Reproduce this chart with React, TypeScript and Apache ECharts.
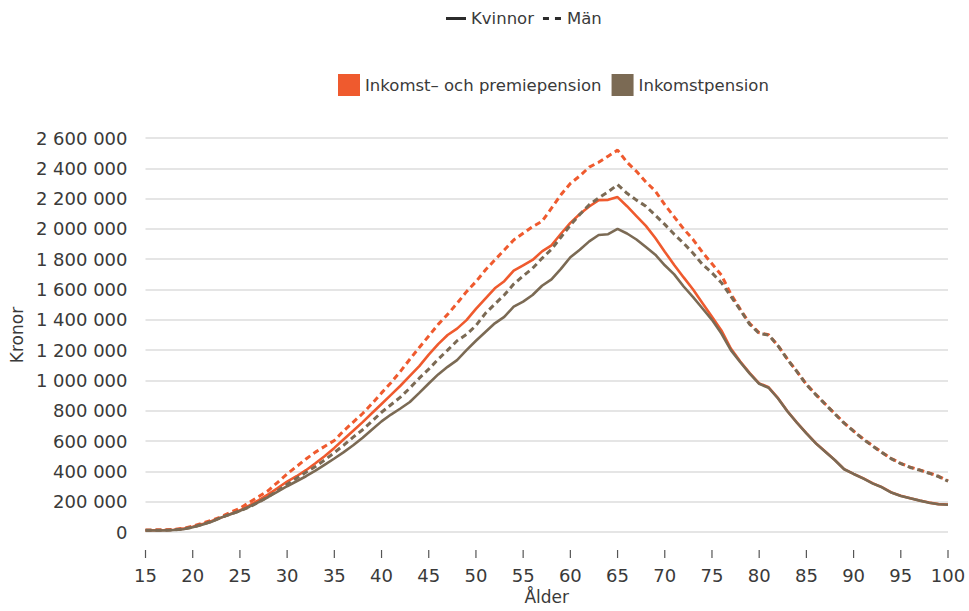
import React, { useEffect, useRef } from "react";
import * as echarts from "echarts";

const ages = [
  "15","16","17","18","19","20","21","22","23","24","25","26","27","28","29",
  "30","31","32","33","34","35","36","37","38","39","40","41","42","43","44",
  "45","46","47","48","49","50","51","52","53","54","55","56","57","58","59",
  "60","61","62","63","64","65","66","67","68","69","70","71","72","73","74",
  "75","76","77","78","79","80","81","82","83","84","85","86","87","88","89",
  "90","91","92","93","94","95","96","97","98","99","100",
];

// Inkomst- och premiepension, Kvinnor
const totalWomen = [
  12000, 12000, 13000, 15000, 22000, 35000, 52000, 72000, 95000, 119000,
  143000, 176000, 210000, 248000, 290000, 333000, 368000, 408000, 454000, 502000,
  555000, 612000, 668000, 725000, 785000, 845000, 905000, 965000, 1030000, 1095000,
  1170000, 1240000, 1300000, 1342000, 1398000, 1472000, 1540000, 1608000, 1655000, 1725000,
  1760000, 1795000, 1852000, 1892000, 1968000, 2040000, 2098000, 2148000, 2190000, 2192000,
  2210000, 2150000, 2085000, 2020000, 1940000, 1850000, 1762000, 1680000, 1600000, 1510000,
  1420000, 1330000, 1210000, 1125000, 1048000, 981000, 955000, 883000, 797000, 722000,
  652000, 586000, 531000, 476000, 415000, 384000, 355000, 322000, 296000, 261000,
  239000, 223000, 208000, 194000, 184000, 181000,
];

// Inkomst- och premiepension, Män
const totalMen = [
  14000, 14000, 15000, 17000, 24000, 38000, 58000, 78000, 100000, 130000,
  156000, 196000, 234000, 273000, 328000, 383000, 432000, 482000, 527000, 566000,
  604000, 668000, 725000, 782000, 848000, 918000, 985000, 1060000, 1140000, 1218000,
  1293000, 1370000, 1436000, 1509000, 1586000, 1652000, 1729000, 1795000, 1861000, 1927000,
  1971000, 2015000, 2050000, 2137000, 2225000, 2300000, 2350000, 2408000, 2440000, 2480000,
  2520000, 2440000, 2380000, 2310000, 2250000, 2160000, 2080000, 2000000, 1930000, 1845000,
  1770000, 1695000, 1570000, 1470000, 1375000, 1315000, 1302000, 1230000, 1140000, 1060000,
  975000, 908000, 845000, 782000, 720000, 667000, 615000, 570000, 526000, 485000,
  453000, 428000, 410000, 390000, 368000, 337000,
];

// Inkomstpension, Kvinnor
const incomeWomen = [
  10000, 10000, 11000, 13000, 18000, 32000, 48000, 68000, 95000, 117000,
  139000, 167000, 198000, 231000, 267000, 302000, 335000, 368000, 405000, 445000,
  485000, 527000, 572000, 622000, 676000, 730000, 775000, 815000, 858000, 918000,
  980000, 1040000, 1090000, 1134000, 1200000, 1262000, 1320000, 1377000, 1420000, 1487000,
  1520000, 1564000, 1625000, 1667000, 1736000, 1813000, 1862000, 1918000, 1960000, 1965000,
  2000000, 1970000, 1930000, 1880000, 1830000, 1760000, 1700000, 1620000, 1550000, 1475000,
  1400000, 1310000, 1200000, 1120000, 1045000, 978000, 952000, 881000, 795000, 721000,
  651000, 585000, 530000, 475000, 414000, 383000, 354000, 321000, 295000, 260000,
  238000, 222000, 207000, 193000, 183000, 180000,
];

// Inkomstpension, Män
const incomeMen = [
  11000, 11000, 12000, 14000, 20000, 32000, 50000, 70000, 95000, 118000,
  139000, 165000, 198000, 233000, 273000, 315000, 355000, 394000, 432000, 476000,
  524000, 573000, 626000, 675000, 732000, 790000, 840000, 890000, 950000, 1015000,
  1075000, 1140000, 1200000, 1262000, 1304000, 1362000, 1443000, 1504000, 1564000, 1636000,
  1690000, 1740000, 1806000, 1866000, 1945000, 2025000, 2095000, 2160000, 2205000, 2245000,
  2292000, 2235000, 2190000, 2150000, 2090000, 2030000, 1965000, 1905000, 1840000, 1765000,
  1710000, 1645000, 1555000, 1465000, 1370000, 1310000, 1300000, 1228000, 1138000, 1058000,
  973000, 906000, 843000, 780000, 718000, 665000, 613000, 568000, 524000, 483000,
  451000, 426000, 408000, 388000, 366000, 335000,
];

// Tick positions on the age axis (every fifth year)
const tickAges = ["15","20","25","30","35","40","45","50","55","60","65","70","75","80","85","90","95","100"];

const nameTotal = "Inkomst– och premiepension";
const nameIncome = "Inkomstpension";
const nameWomen = "Kvinnor";
const nameMen = "Män";

const ORANGE = "#EF5A2E";
const BROWN = "#7B6A54";
const TEXT = "#3a3a3a";
const DARK = "#2b2b2b";
const FONT = "DejaVu Sans";

const fmt = (v: number) => String(v).replace(/\B(?=(\d{3})+(?!\d))/g, " ");

export default function App() {
  const ref = useRef<HTMLDivElement>(null);

  useEffect(() => {
    if (!ref.current) return;
    const chart = echarts.init(ref.current, undefined, { renderer: "svg" });
    const dash = [6, 4];
    chart.setOption({
      animation: false,
      backgroundColor: "#ffffff",
      textStyle: { fontFamily: FONT, color: TEXT },
      grid: { left: 141, right: 21, top: 138, bottom: 79, containLabel: false },
      legend: [
        {
          data: [
            { name: nameWomen, icon: "path://M0,0H20V3H0Z" },
            { name: nameMen, icon: "path://M0,0H6V3H0Z M12,0H18V3H12Z" },
          ],
          left: 441,
          top: 5,
          itemWidth: 20,
          itemHeight: 3,
          itemGap: 9,
          selectedMode: false,
          itemStyle: { color: DARK, borderWidth: 0 },
          textStyle: { fontFamily: FONT, fontSize: 16.5, color: TEXT },
        },
        {
          data: [nameTotal, nameIncome],
          left: 333,
          top: 69,
          icon: "rect",
          itemWidth: 22,
          itemHeight: 22,
          itemGap: 10,
          selectedMode: false,
          itemStyle: { borderWidth: 0 },
          textStyle: { fontFamily: FONT, fontSize: 16.5, color: TEXT },
        },
      ],
      xAxis: {
        type: "category",
        data: ages,
        boundaryGap: false,
        offset: 18,
        name: "Ålder",
        nameLocation: "middle",
        nameGap: 36,
        nameTextStyle: { fontFamily: FONT, fontSize: 17, color: TEXT },
        axisLine: { show: false, onZero: false },
        axisTick: { show: false },
        axisLabel: {
          interval: 4,
          margin: 16,
          fontSize: 18,
          color: TEXT,
          fontFamily: FONT,
        },
        splitLine: { show: false },
      },
      yAxis: {
        type: "value",
        min: 0,
        max: 2600000,
        interval: 200000,
        name: "Kronor",
        nameLocation: "middle",
        nameGap: 113,
        nameRotate: 90,
        nameTextStyle: { fontFamily: FONT, fontSize: 17, color: TEXT },
        axisLine: { show: false },
        axisTick: { show: false },
        axisLabel: {
          margin: 18,
          fontSize: 18,
          color: TEXT,
          fontFamily: FONT,
          formatter: (v: number) => fmt(v),
        },
        splitLine: { lineStyle: { color: "#dcdcdc", width: 1.5 } },
      },
      series: [
        {
          name: nameTotal,
          type: "line",
          data: totalWomen,
          symbol: "none",
          color: ORANGE,
          itemStyle: { color: ORANGE },
          lineStyle: { color: ORANGE, width: 2.6 },
          z: 2,
        },
        {
          name: nameTotal,
          type: "line",
          data: totalMen,
          symbol: "none",
          color: ORANGE,
          itemStyle: { color: ORANGE },
          lineStyle: { color: ORANGE, width: 3, type: dash },
          z: 2,
        },
        {
          name: nameIncome,
          type: "line",
          data: incomeWomen,
          symbol: "none",
          color: BROWN,
          itemStyle: { color: BROWN },
          lineStyle: { color: BROWN, width: 2.6 },
          z: 3,
        },
        {
          name: nameIncome,
          type: "line",
          data: incomeMen,
          symbol: "none",
          color: BROWN,
          itemStyle: { color: BROWN },
          lineStyle: { color: BROWN, width: 3, type: dash },
          z: 3,
        },
        {
          name: nameWomen,
          type: "line",
          data: [],
          symbol: "none",
          color: DARK,
          itemStyle: { color: DARK },
          lineStyle: { color: DARK, width: 2.5 },
        },
        {
          name: nameMen,
          type: "line",
          data: [],
          symbol: "none",
          color: DARK,
          itemStyle: { color: DARK },
          lineStyle: { color: DARK, width: 2.5, type: [6, 6] },
        },
        {
          name: "ticks",
          type: "custom",
          silent: true,
          clip: false,
          z: 10,
          data: tickAges.map((a) => [a, 0]),
          encode: { x: 0, y: 1 },
          renderItem: (_params: any, api: any) => {
            const p = api.coord([api.value(0), 0]);
            return {
              type: "rect",
              shape: { x: p[0] - 0.6, y: p[1] + 18, width: 1.2, height: 8 },
              style: { fill: "#555555" },
            };
          },
        },
      ],
    });

    return () => chart.dispose();
  }, []);

  return (
    <div
      ref={ref}
      style={{ position: "fixed", left: 0, top: 0, width: 969, height: 611, background: "#fff" }}
    />
  );
}
